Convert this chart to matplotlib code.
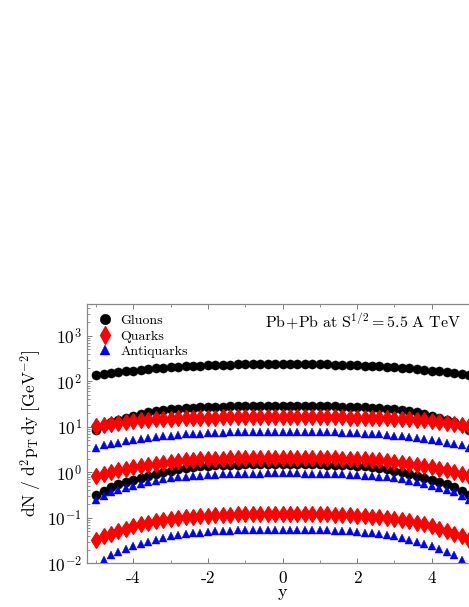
import numpy as np
import matplotlib
matplotlib.use('Agg')
import matplotlib.pyplot as plt
from matplotlib.ticker import MultipleLocator, FixedLocator, FixedFormatter, LogLocator

plt.rcParams['font.family'] = 'serif'
plt.rcParams['font.serif'] = ['cmr10', 'DejaVu Serif']
plt.rcParams['mathtext.fontset'] = 'cm'
plt.rcParams['axes.formatter.use_mathtext'] = True

# rapidity grid, values read for y >= 0 (curves are symmetric in y)
y_half = np.round(np.arange(0, 5.01, 0.2), 1)

gluon_hi = [240, 240, 239, 238, 237, 236, 234, 232, 230, 228, 225, 222, 218,
            214, 210, 205, 200, 193, 187, 180, 172, 165, 158, 151, 144, 137]
gluon_mid = [29.0, 29.0, 28.9, 28.8, 28.6, 28.4, 28.2, 28.0, 27.8, 27.6, 27.3,
             26.9, 26.4, 25.8, 25.2, 24.5, 23.5, 22.4, 21.1, 19.4, 17.5, 15.9,
             14.3, 12.6, 10.6, 8.6]
gluon_lo = [1.53, 1.53, 1.52, 1.52, 1.51, 1.50, 1.48, 1.46, 1.44, 1.42, 1.39,
            1.35, 1.30, 1.24, 1.17, 1.09, 1.01, 0.93, 0.84, 0.76, 0.68, 0.61,
            0.54, 0.47, 0.39, 0.31]
quark_hi = [16.5, 16.5, 16.5, 16.4, 16.4, 16.3, 16.3, 16.2, 16.1, 16.0, 15.9,
            15.8, 15.7, 15.5, 15.3, 15.1, 14.9, 14.6, 14.2, 13.8, 13.4, 12.9,
            12.4, 11.8, 11.2, 10.5]
quark_mid = [2.07, 2.07, 2.06, 2.06, 2.05, 2.04, 2.03, 2.02, 2.00, 1.98, 1.95,
             1.92, 1.88, 1.82, 1.75, 1.67, 1.60, 1.53, 1.45, 1.37, 1.29, 1.20,
             1.11, 1.03, 0.94, 0.82]
quark_lo = [0.122, 0.122, 0.122, 0.121, 0.121, 0.120, 0.119, 0.118, 0.116,
            0.114, 0.112, 0.109, 0.106, 0.103, 0.099, 0.095, 0.090, 0.085,
            0.078, 0.072, 0.065, 0.058, 0.052, 0.045, 0.039, 0.032]
anti_hi = [7.8, 7.8, 7.8, 7.7, 7.7, 7.6, 7.6, 7.5, 7.4, 7.3, 7.2, 7.1, 6.9,
           6.8, 6.6, 6.4, 6.2, 5.9, 5.7, 5.4, 5.1, 4.8, 4.5, 4.2, 3.9, 3.5]
anti_mid = [0.95, 0.95, 0.95, 0.94, 0.94, 0.93, 0.92, 0.91, 0.90, 0.89, 0.87,
            0.85, 0.83, 0.80, 0.77, 0.74, 0.70, 0.66, 0.61, 0.56, 0.51, 0.46,
            0.41, 0.36, 0.30, 0.25]
anti_lo = [0.055, 0.055, 0.055, 0.054, 0.054, 0.053, 0.053, 0.052, 0.051,
           0.050, 0.049, 0.047, 0.046, 0.044, 0.041, 0.039, 0.036, 0.033,
           0.030, 0.027, 0.024, 0.021, 0.018, 0.015, 0.012, 0.007]

xticks = [-4, -2, 0, 2, 4]
xtick_labels = ['-4', '-2', '0', '2', '4']


def full(vals):
    v = np.asarray(vals, dtype=float)
    return np.concatenate([v[:0:-1], v])


y_all = np.concatenate([-y_half[:0:-1], y_half])

fig = plt.figure(figsize=(4.69, 6.07), dpi=100)
ax = fig.add_axes([0.1849, 0.072, 0.835, 0.4272])

kw = dict(linestyle='none', clip_on=True)
for i, g in enumerate([gluon_hi, gluon_mid, gluon_lo]):
    ax.plot(y_all, full(g), marker='o', ms=6.6, color='black', mec='black',
            mew=0.3, label='Gluons' if i == 0 else None, **kw)
for i, q in enumerate([quark_hi, quark_mid, quark_lo]):
    ax.plot(y_all, full(q), marker='d', ms=8.0, color='red', mec='red',
            mew=0.9, label='Quarks' if i == 0 else None, **kw)
for i, a in enumerate([anti_hi, anti_mid, anti_lo]):
    ax.plot(y_all, full(a), marker='^', ms=6.0, color='blue', mec='blue',
            mew=0.3, label='Antiquarks' if i == 0 else None, **kw)

ax.set_yscale('log')
ax.set_ylim(1e-2, 5e3)
ax.set_xlim(-5.25, 5.25)
ax.xaxis.set_major_locator(FixedLocator(xticks))
ax.xaxis.set_major_formatter(FixedFormatter(xtick_labels))
ax.xaxis.set_minor_locator(MultipleLocator(1))
ax.yaxis.set_major_locator(LogLocator(base=10, numticks=10))
ax.yaxis.set_minor_locator(LogLocator(base=10, subs=np.arange(2, 10), numticks=20))

for s in ax.spines.values():
    s.set_color('#888888')
    s.set_linewidth(0.9)
ax.tick_params(which='both', direction='in', top=True, right=True,
               color='#666666', labelsize=12.5)
ax.tick_params(which='major', length=3.5, width=0.6)
ax.tick_params(which='minor', length=2, width=0.5)
ax.tick_params(axis='x', pad=5)

ax.set_xlabel('y', fontsize=13, labelpad=-1)
ax.set_ylabel(r'$\mathrm{dN\ /\ d^2p_T\, dy\ [GeV^{-2}]}$', fontsize=12.5,
              labelpad=2)

ax.text(0.955, 0.93, r'$\mathrm{Pb\!+\!Pb\ at\ S^{1/2} = 5.5\ A\ TeV}$',
        transform=ax.transAxes, ha='right', va='center', fontsize=11.5)

ax.legend(loc='upper left', frameon=False, fontsize=10, handletextpad=0.45,
          labelspacing=0.2, borderaxespad=0.35, handlelength=1.2,
          markerscale=1.15, bbox_to_anchor=(0.0, 1.0))

fig.savefig('out.png', dpi=100)
